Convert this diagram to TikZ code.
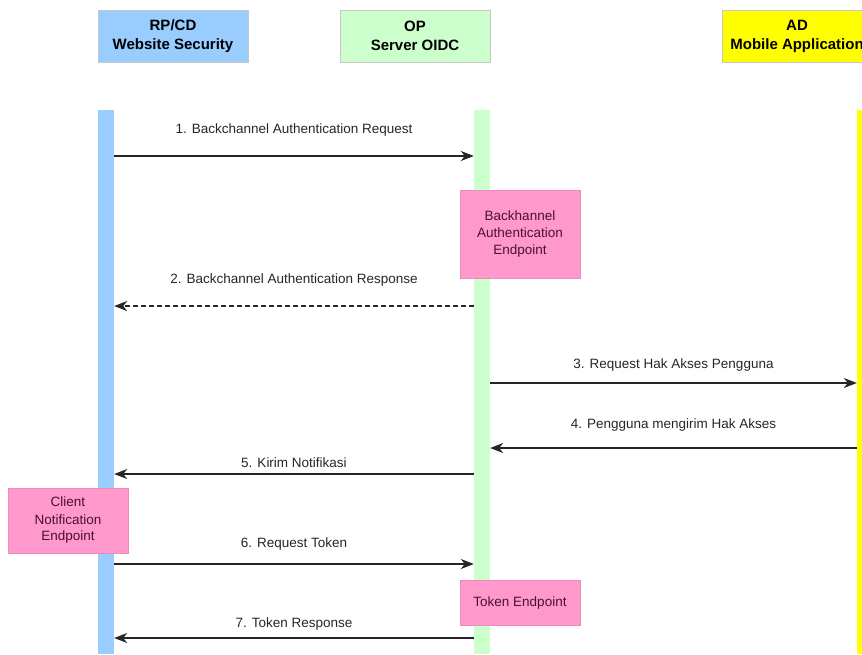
\documentclass[tikz,border=0pt]{standalone}
\usepackage{fontspec}
\setmainfont{Liberation Sans}
\usetikzlibrary{positioning,arrows.meta}
\definecolor{rpblue}{HTML}{99CCFF}
\definecolor{opgreen}{HTML}{CCFFCC}
\definecolor{adyellow}{HTML}{FFFF00}
\definecolor{eppink}{HTML}{FF99CC}
\definecolor{eptext}{HTML}{4A1030}

\begin{document}
\begin{tikzpicture}[x=1pt,y=-1pt,>={Stealth[length=13pt,width=10pt,inset=4pt]},
    actor/.style={rectangle,draw=black!22,minimum width=150pt,minimum height=52pt,align=center,
      font=\fontsize{15}{19}\selectfont\bfseries},
    lifeline/.style={rectangle,inner sep=0pt,minimum width=16pt,minimum height=544pt},
    endpt/.style={rectangle,fill=eppink,draw=eppink!92!black,text=eptext,align=center,
      minimum width=120pt,font=\fontsize{13.5}{17}\selectfont},
    msg/.style={->,draw=black!85,line width=1.1pt},
    lbl/.style={font=\fontsize{13.5}{16}\selectfont,text=black!85}]
  \useasboundingbox (0,0) rectangle (862,654);
  \clip (0,0) rectangle (862,654);

  \node[actor,fill=rpblue]   (rpH) at (173,36) {RP/CD\\Website Security};
  \node[actor,fill=opgreen]  (opH) at (415,36) {OP\\Server OIDC};
  \node[actor,fill=adyellow] (adH) at (797,36) {AD\\Mobile Application};

  \node[lifeline,fill=rpblue]   (rpL) at (106,382) {};
  \node[lifeline,fill=opgreen]  (opL) at (482,382) {};
  \node[lifeline,fill=adyellow] (adL) at (865,382) {};

  \node[endpt,minimum height=88pt] (bcEP) at (520,234) {Backhannel\\Authentication\\Endpoint};
  \node[endpt,minimum height=65pt] (cnEP) at (68,520.5) {Client\\Notification\\Endpoint};
  \node[endpt,minimum height=45pt] (tkEP) at (520,602.5) {Token Endpoint};

  \coordinate (m1) at (0,156);
  \coordinate (m2) at (0,306);
  \coordinate (m3) at (0,383);
  \coordinate (m4) at (0,448);
  \coordinate (m5) at (0,474);
  \coordinate (m6) at (0,564);
  \coordinate (m7) at (0,638);

  \path (rpL.east |- m1) edge[msg] node[lbl,yshift=26pt] {1. Backchannel Authentication Request} (opL.west |- m1)
        (opL.west |- m2) edge[msg,dash pattern=on 5pt off 3pt] node[lbl,yshift=26pt] {2. Backchannel Authentication Response} (rpL.east |- m2)
        (opL.east |- m3) edge[msg] node[lbl,yshift=18pt] {3. Request Hak Akses Pengguna} (adL.west |- m3)
        (adL.west |- m4) edge[msg] node[lbl,yshift=23pt] {4. Pengguna mengirim Hak Akses} (opL.east |- m4)
        (opL.west |- m5) edge[msg] node[lbl,yshift=11pt] {5. Kirim Notifikasi} (rpL.east |- m5)
        (rpL.east |- m6) edge[msg] node[lbl,yshift=20pt] {6. Request Token} (opL.west |- m6)
        (opL.west |- m7) edge[msg] node[lbl,yshift=14pt] {7. Token Response} (rpL.east |- m7);
\end{tikzpicture}
\end{document}
